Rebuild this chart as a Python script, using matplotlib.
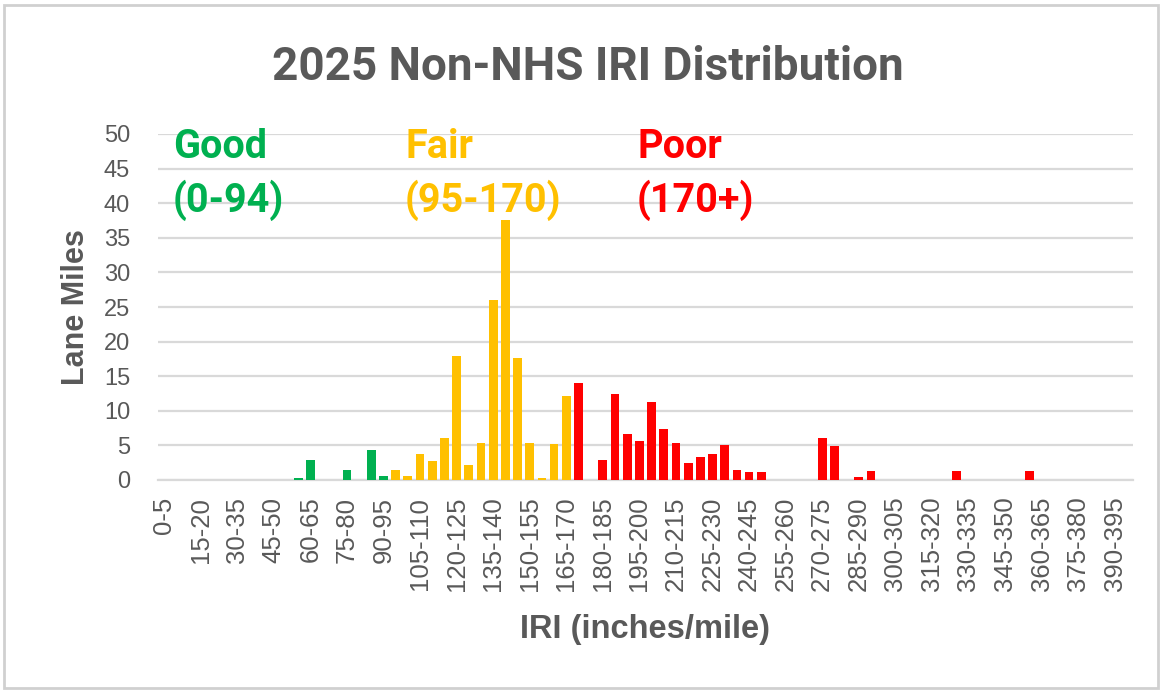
import matplotlib
matplotlib.use("Agg")
import matplotlib.pyplot as plt
from matplotlib.patches import Rectangle
import numpy as np

# IRI bins (inches/mile), 5-wide, 0-5 through 395-400
bin_lower = list(range(0, 400, 5))
bin_labels = [f"{lo}-{lo + 5}" for lo in bin_lower]

# lane miles per bin
lane_miles = [0, 0, 0, 0, 0, 0, 0, 0, 0, 0,
              0, 0.3, 2.9, 0, 0, 1.5, 0, 4.3, 0.6, 1.5,
              0.6, 3.8, 2.7, 6.1, 17.9, 2.2, 5.3, 26.0, 37.6, 17.6,
              5.3, 0.3, 5.2, 12.2, 14.0, 0, 2.9, 12.5, 6.7, 5.6,
              11.3, 7.4, 5.3, 2.4, 3.3, 3.8, 5.0, 1.5, 1.1, 1.2,
              0, 0, 0, 0, 6.1, 4.9, 0, 0.5, 1.3, 0,
              0, 0, 0, 0, 0, 1.3, 0, 0, 0, 0,
              0, 1.3, 0, 0, 0, 0, 0, 0, 0, 0]

# condition classes
class_names = ["Good", "Fair", "Poor"]
class_ranges = ["(0-94)", "(95-170)", "(170+)"]
class_colors = ["#00B050", "#FFC000", "#FF0000"]
class_limits = [95, 170]

gray = "#595959"
grid_gray = "#D9D9D9"

def bar_color(lo):
    if lo < class_limits[0]:
        return class_colors[0]
    elif lo < class_limits[1]:
        return class_colors[1]
    return class_colors[2]

colors = [bar_color(lo) for lo in bin_lower]

W, H = 1163, 692
fig = plt.figure(figsize=(W / 100, H / 100), dpi=100)
ax = fig.add_axes([158 / W, 1 - 480 / H, (1133 - 158) / W, (480 - 134) / H])

x = np.arange(len(bin_labels))
ax.bar(x, lane_miles, width=0.72, color=colors, zorder=3)

ax.set_xlim(-0.5, len(bin_labels) - 0.5)
ax.set_ylim(0, 50)
ax.set_yticks(range(0, 51, 5))
ax.set_xticks(x[::3])
ax.set_xticklabels(bin_labels[::3], rotation=90, family="Liberation Sans",
                   fontsize=18.5, color=gray)
for lab in ax.get_yticklabels():
    lab.set_family("Liberation Sans")
    lab.set_fontsize(17)
    lab.set_color(gray)
ax.tick_params(axis="y", length=0, pad=20)
ax.tick_params(axis="x", length=0, pad=12)

ax.grid(axis="y", color=grid_gray, linewidth=1.6, zorder=0)
for s in ["top", "right", "left"]:
    ax.spines[s].set_visible(False)
ax.spines["bottom"].set_color(grid_gray)
ax.spines["bottom"].set_linewidth(1.6)

ax.set_ylabel("Lane Miles", family="Liberation Sans", fontweight="bold",
              fontsize=22, color=gray, labelpad=9)
ax.set_xlabel("IRI (inches/mile)", family="Liberation Sans", fontweight="bold",
              fontsize=23.5, color=gray, labelpad=16)

fig.text(588 / W, 1 - 80 / H, "2025 Non-NHS IRI Distribution", ha="center",
         va="baseline", family="Roboto", fontweight="bold", fontsize=33, color=gray)

# class annotations
class_x = [173, 405, 637]
for name, rng, c, px in zip(class_names, class_ranges, class_colors, class_x):
    fig.text(px / W, 1 - 158 / H, name, ha="left", va="baseline",
             family="Roboto", fontweight="bold", fontsize=28.5, color=c)
    fig.text(px / W, 1 - 212 / H, rng, ha="left", va="baseline",
             family="Roboto", fontweight="bold", fontsize=28.5, color=c)

# chart border
fig.patches.append(Rectangle((4 / W, 4 / H), (W - 9) / W, (H - 9) / H,
                             transform=fig.transFigure, fill=False,
                             edgecolor="#D0D0D0", linewidth=2))

fig.savefig("out.png", dpi=100)
